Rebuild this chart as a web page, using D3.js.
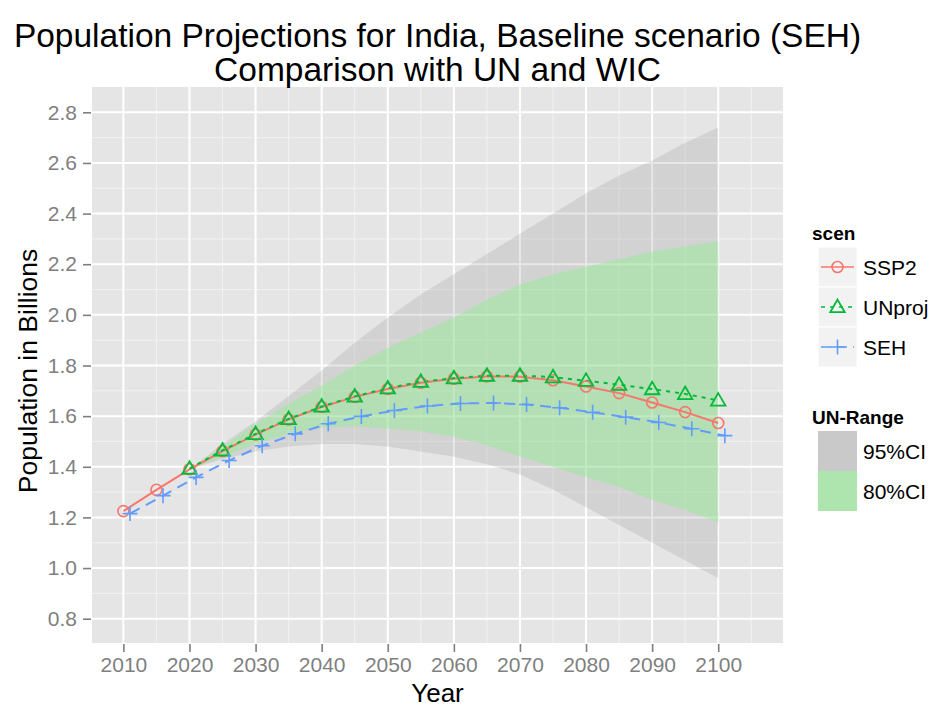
<!DOCTYPE html>
<html lang="en">
<head>
<meta charset="UTF-8">
<title>Population Projections for India</title>
<script src="https://d3js.org/d3.v7.min.js"></script>
<style>
  body { margin: 0; background: #fff; }
  svg text { font-family: "Liberation Sans", Arial, sans-serif; }
</style>
</head>
<body>
<svg id="chart" width="935" height="707"></svg>
<script>
// SSP2 projection (billions)
const ssp2Years = [2010, 2015, 2020, 2025, 2030, 2035, 2040, 2045, 2050, 2055,
                   2060, 2065, 2070, 2075, 2080, 2085, 2090, 2095, 2100];
const ssp2Values = [1.225, 1.309, 1.390, 1.462, 1.527, 1.587, 1.636, 1.676, 1.707, 1.732,
                    1.748, 1.757, 1.756, 1.742, 1.717, 1.691, 1.654, 1.616, 1.573];

// UN projection
const unYears = [2020, 2025, 2030, 2035, 2040, 2045, 2050, 2055, 2060,
                 2065, 2070, 2075, 2080, 2085, 2090, 2095, 2100];
const unValues = [1.393, 1.465, 1.530, 1.589, 1.638, 1.678, 1.710, 1.736, 1.750,
                  1.760, 1.760, 1.754, 1.740, 1.724, 1.707, 1.688, 1.662];

// SEH scenario
const sehYears = [2011, 2016, 2021, 2026, 2031, 2036, 2041, 2046, 2051, 2056,
                  2061, 2066, 2071, 2076, 2081, 2086, 2091, 2096, 2101];
const sehValues = [1.215, 1.286, 1.358, 1.425, 1.483, 1.530, 1.570, 1.599, 1.622, 1.640,
                   1.650, 1.652, 1.646, 1.633, 1.615, 1.596, 1.575, 1.550, 1.523];

// UN uncertainty range
const rangeYears = [2020, 2025, 2030, 2035, 2040, 2045, 2050, 2055, 2060,
                    2065, 2070, 2075, 2080, 2085, 2090, 2095, 2100];
const ci95Low  = [1.39, 1.43, 1.46, 1.48, 1.49, 1.49, 1.48, 1.46, 1.44,
                  1.41, 1.37, 1.31, 1.24, 1.17, 1.10, 1.03, 0.96];
const ci95High = [1.39, 1.49, 1.58, 1.68, 1.78, 1.89, 1.99, 2.08, 2.16,
                  2.24, 2.32, 2.40, 2.48, 2.55, 2.61, 2.68, 2.74];
const ci80Low  = [1.39, 1.44, 1.49, 1.53, 1.555, 1.56, 1.55, 1.54, 1.52,
                  1.485, 1.44, 1.40, 1.36, 1.32, 1.27, 1.23, 1.18];
const ci80High = [1.39, 1.48, 1.57, 1.65, 1.72, 1.80, 1.87, 1.93, 1.99,
                  2.06, 2.12, 2.16, 2.19, 2.22, 2.25, 2.27, 2.29];

const xTicks = [2010, 2020, 2030, 2040, 2050, 2060, 2070, 2080, 2090, 2100];
const yTicks = [0.8, 1.0, 1.2, 1.4, 1.6, 1.8, 2.0, 2.2, 2.4, 2.6, 2.8];

const scenNames = ["SSP2", "UNproj", "SEH"];
const rangeNames = ["95%CI", "80%CI"];

const svg = d3.select("#chart");
const panel = { left: 92, right: 783, top: 87, bottom: 643 };

const x = d3.scaleLinear().domain([2005.25, 2109.8]).range([panel.left, panel.right]);
const y = d3.scaleLinear().domain([0.704, 2.9]).range([panel.bottom, panel.top]);

// panel background
svg.append("rect")
    .attr("x", panel.left).attr("y", panel.top)
    .attr("width", panel.right - panel.left).attr("height", panel.bottom - panel.top)
    .attr("fill", "#e5e5e5");

const grid = svg.append("g");
const xMinor = xTicks.map(t => t + 5).filter(t => x(t) < panel.right);
const yMinor = yTicks.map(t => t + 0.1).filter(t => y(t) > panel.top + 1);

grid.selectAll(".xminor").data(xMinor).enter().append("line")
    .attr("x1", d => x(d)).attr("x2", d => x(d))
    .attr("y1", panel.top).attr("y2", panel.bottom)
    .attr("stroke", "#f2f2f2").attr("stroke-width", 1);
grid.selectAll(".yminor").data(yMinor).enter().append("line")
    .attr("y1", d => y(d)).attr("y2", d => y(d))
    .attr("x1", panel.left).attr("x2", panel.right)
    .attr("stroke", "#f2f2f2").attr("stroke-width", 1);
grid.selectAll(".xmajor").data(xTicks).enter().append("line")
    .attr("x1", d => x(d)).attr("x2", d => x(d))
    .attr("y1", panel.top).attr("y2", panel.bottom)
    .attr("stroke", "#fff").attr("stroke-width", 2);
grid.selectAll(".ymajor").data(yTicks).enter().append("line")
    .attr("y1", d => y(d)).attr("y2", d => y(d))
    .attr("x1", panel.left).attr("x2", panel.right)
    .attr("stroke", "#fff").attr("stroke-width", 2);

// ribbons
const band = (lo, hi) => d3.area()
    .x((d, i) => x(rangeYears[i]))
    .y0((d, i) => y(lo[i]))
    .y1((d, i) => y(hi[i]));

svg.append("path")
    .attr("d", band(ci95Low, ci95High)(rangeYears))
    .attr("fill", "#868686").attr("fill-opacity", 0.2);
svg.append("path")
    .attr("d", band(ci80Low, ci80High)(rangeYears))
    .attr("fill", "#90ee90").attr("fill-opacity", 0.45);

// series
const series = [
  { name: "SSP2", years: ssp2Years, values: ssp2Values, color: "#F8766D", dash: null, shape: "circle" },
  { name: "UNproj", years: unYears, values: unValues, color: "#00BA38", dash: "4,5", shape: "triangle" },
  { name: "SEH", years: sehYears, values: sehValues, color: "#619CFF", dash: "11,7", shape: "plus" }
];

const triSym = d3.symbol().type(d3.symbolTriangle2 || d3.symbolTriangle).size(150);

function drawMarker(g, shape, cx, cy, color) {
  if (shape === "circle") {
    g.append("circle").attr("cx", cx).attr("cy", cy).attr("r", 5.5)
        .attr("fill", "none").attr("stroke", color).attr("stroke-width", 1.6);
  } else if (shape === "triangle") {
    g.append("path").attr("d", triSym()).attr("transform", `translate(${cx},${cy + 1})`)
        .attr("fill", "none").attr("stroke", color).attr("stroke-width", 1.8);
  } else {
    g.append("path").attr("d", "M-7.5,0H7.5M0,-7.5V7.5")
        .attr("transform", `translate(${cx},${cy})`)
        .attr("fill", "none").attr("stroke", color).attr("stroke-width", 1.6);
  }
}

series.forEach(s => {
  const line = d3.line().x((d, i) => x(s.years[i])).y(d => y(d));
  svg.append("path")
      .attr("d", line(s.values))
      .attr("fill", "none")
      .attr("stroke", s.color)
      .attr("stroke-width", 2)
      .attr("stroke-dasharray", s.dash);
});
series.forEach(s => {
  const g = svg.append("g");
  s.values.forEach((v, i) => drawMarker(g, s.shape, x(s.years[i]), y(v), s.color));
});

// axes
const xAxis = svg.append("g").attr("transform", `translate(0,${panel.bottom})`)
    .call(d3.axisBottom(x).tickValues(xTicks).tickFormat(d3.format("d")).tickSize(9).tickPadding(5));
const yAxis = svg.append("g").attr("transform", `translate(${panel.left},0)`)
    .call(d3.axisLeft(y).tickValues(yTicks).tickFormat(d3.format(".1f")).tickSize(9).tickPadding(6));
[xAxis, yAxis].forEach(a => {
  a.select(".domain").remove();
  a.selectAll(".tick line").attr("stroke", "#7f7f7f").attr("stroke-width", 1.6);
  a.selectAll(".tick text").attr("fill", "#7f7f7f").attr("font-size", 21)
      .style("font-family", "'Liberation Sans', Arial, sans-serif");
});
xAxis.selectAll(".tick line").attr("y1", 1);
yAxis.selectAll(".tick line").attr("x1", -1);

// titles
const cx = (panel.left + panel.right) / 2;
svg.append("text").attr("x", cx).attr("y", 47).attr("text-anchor", "middle")
    .attr("font-size", 33.5).text("Population Projections for India, Baseline scenario (SEH)");
svg.append("text").attr("x", cx).attr("y", 81).attr("text-anchor", "middle")
    .attr("font-size", 33.5).text("Comparison with UN and WIC");
svg.append("text").attr("x", cx).attr("y", 702).attr("text-anchor", "middle")
    .attr("font-size", 26).text("Year");
svg.append("text")
    .attr("transform", `translate(37,${(panel.top + panel.bottom) / 2 + 6}) rotate(-90)`)
    .attr("text-anchor", "middle").attr("font-size", 26.5).text("Population in Billions");

// legend: scen
const legX = 812, keyX = 818, keyW = 39, labX = 863;
svg.append("text").attr("x", legX).attr("y", 240).attr("font-size", 19)
    .attr("font-weight", "bold").text("scen");
series.forEach((s, i) => {
  const top = 247 + i * 40;
  const g = svg.append("g");
  g.append("rect").attr("x", keyX).attr("y", top).attr("width", keyW).attr("height", 40)
      .attr("fill", "#f2f2f2").attr("stroke", "#fff").attr("stroke-width", 1);
  const my = top + 20;
  g.append("line").attr("x1", keyX + 3).attr("x2", keyX + keyW - 3)
      .attr("y1", my).attr("y2", my)
      .attr("stroke", s.color).attr("stroke-width", 1.6)
      .attr("stroke-dasharray", s.dash ? (s.name === "SEH" ? "10,6" : "4,5") : null);
  drawMarker(g, s.shape, keyX + keyW / 2, my, s.color);
  g.append("text").attr("x", labX).attr("y", my + 7.5).attr("font-size", 21).text(scenNames[i]);
});

// legend: UN-Range
svg.append("text").attr("x", legX).attr("y", 424).attr("font-size", 19)
    .attr("font-weight", "bold").text("UN-Range");
const rangeFill = ["#c9c9c9", "#aee5ae"];
rangeNames.forEach((n, i) => {
  const top = 431 + i * 40;
  svg.append("rect").attr("x", keyX).attr("y", top).attr("width", keyW).attr("height", 40)
      .attr("fill", rangeFill[i]);
  svg.append("text").attr("x", labX).attr("y", top + 27.5).attr("font-size", 21).text(n);
});
</script>
</body>
</html>
